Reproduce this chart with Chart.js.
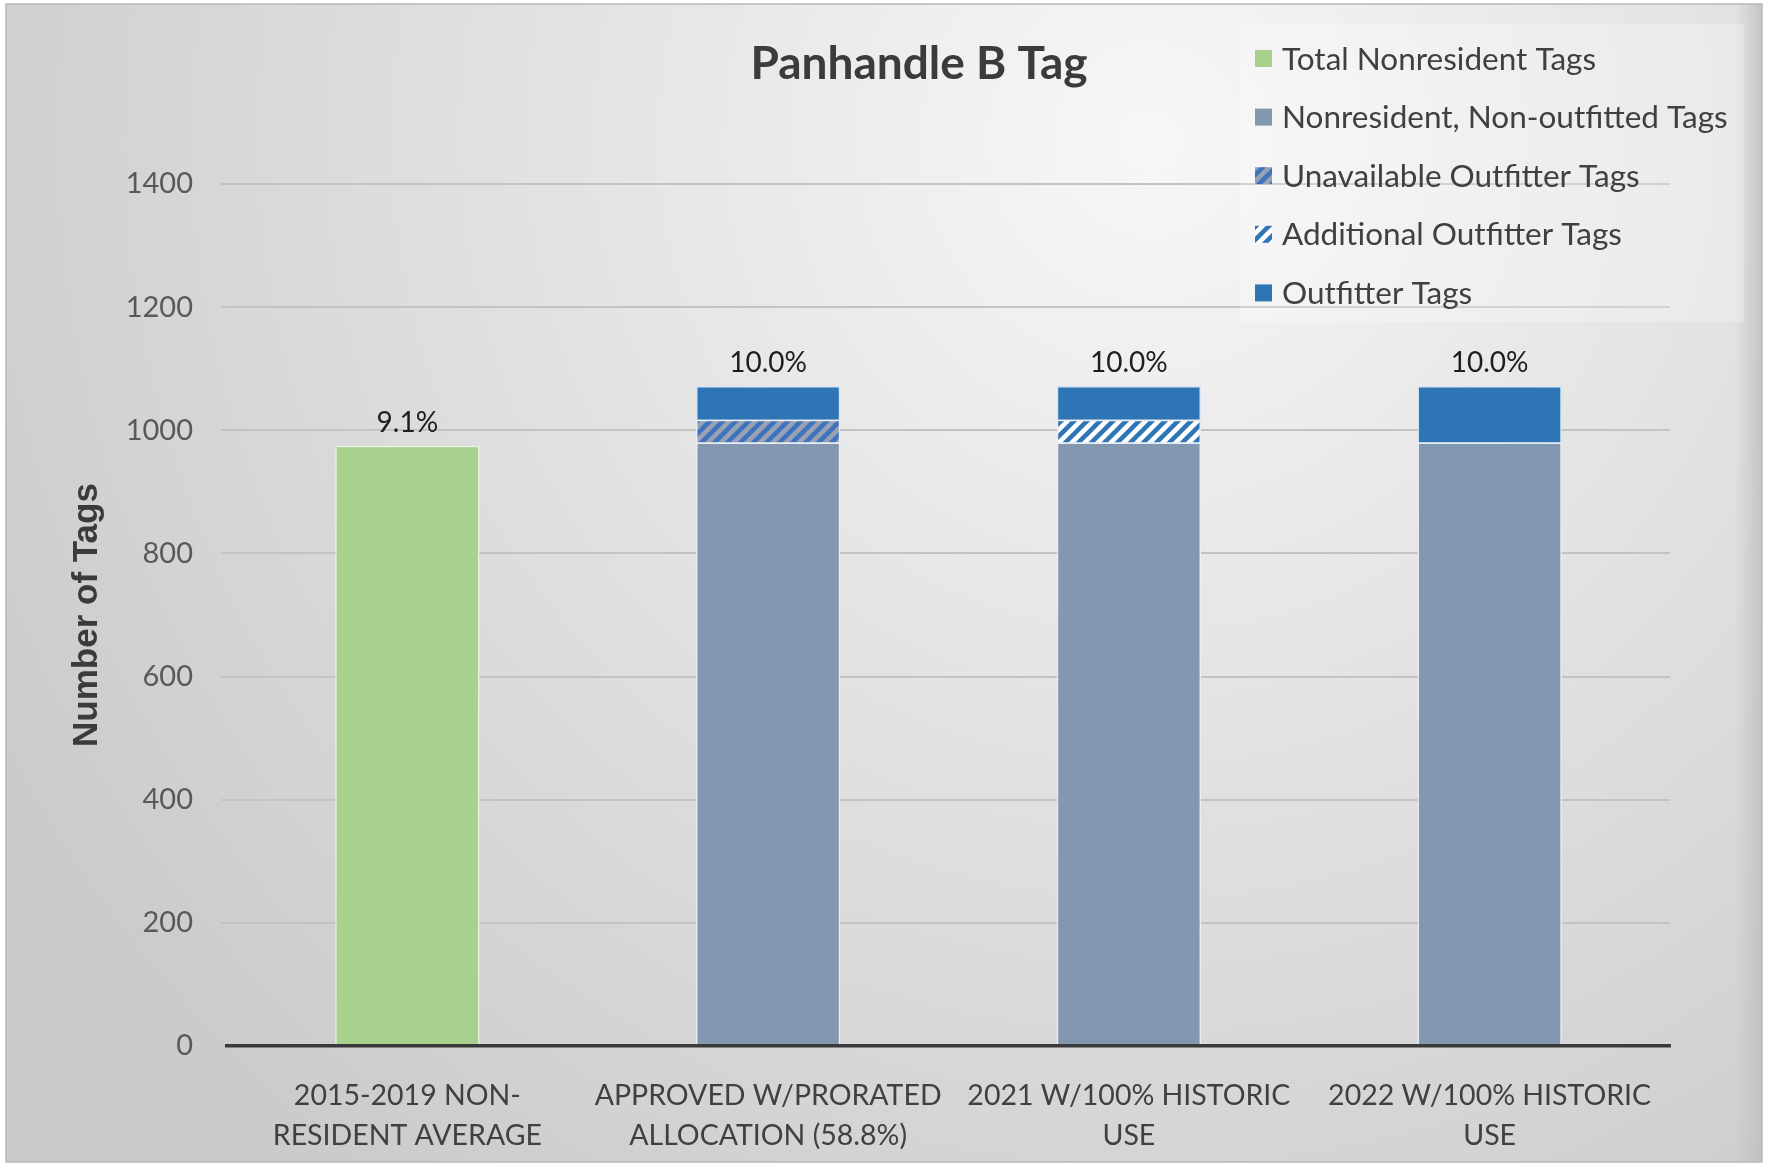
<!DOCTYPE html>
<html>
<head>
<meta charset="utf-8">
<script src="https://cdn.jsdelivr.net/npm/chart.js@4.4.0/dist/chart.umd.min.js"></script>
<style>
  html, body { margin: 0; padding: 0; background: #fff; }
</style>
</head>
<body>
<canvas id="tagChart" width="1767" height="1166"></canvas>
<script>
// chart values
const categories = [
    ["2015-2019 NON-", "RESIDENT AVERAGE"],
    ["APPROVED W/PRORATED", "ALLOCATION (58.8%)"],
    ["2021 W/100% HISTORIC", "USE"],
    ["2022 W/100% HISTORIC", "USE"]
];
const totalNonresident = [975, null, null, null];
const nonOutfitted = [null, 980, 980, 980];
const unavailableOutfitter = [null, 37, null, null];
const additionalOutfitter = [null, null, 37, null];
const outfitterTags = [null, 55, 55, 92];
const percentLabels = ["9.1%", "10.0%", "10.0%", "10.0%"];
const yTicks = [0, 200, 400, 600, 800, 1000, 1200, 1400];

const FONT = "Lato";

// diagonal "/" stripe pattern
function stripes(bg, fg) {
    const s = 13;
    const c = document.createElement("canvas");
    c.width = s; c.height = s;
    const p = c.getContext("2d");
    p.fillStyle = bg;
    p.fillRect(0, 0, s, s);
    p.strokeStyle = fg;
    p.lineWidth = 4.5;
    p.beginPath();
    p.moveTo(0, s); p.lineTo(s, 0);
    p.moveTo(-s / 2, s / 2); p.lineTo(s / 2, -s / 2);
    p.moveTo(s / 2, s * 1.5); p.lineTo(s * 1.5, s / 2);
    p.stroke();
    return p.createPattern(c, "repeat");
}

const ctx = document.getElementById("tagChart").getContext("2d");

const background = {
    id: "background",
    beforeDraw(chart) {
        const c = chart.ctx;
        const w = chart.width, h = chart.height;
        c.save();
        c.fillStyle = "#ffffff";
        c.fillRect(0, 0, w, h);
        const g = c.createRadialGradient(1150, 140, 0, 1150, 140, 1300);
        g.addColorStop(0, "#f7f7f7");
        g.addColorStop(0.45, "#e3e3e3");
        g.addColorStop(1, "#cbcbcb");
        c.fillStyle = g;
        c.fillRect(6, 4, w - 11, h - 8);
        const r = c.createLinearGradient(1735, 0, 1762, 0);
        r.addColorStop(0, "rgba(190,190,190,0)");
        r.addColorStop(1, "rgba(190,190,190,0.8)");
        c.fillStyle = r;
        c.fillRect(1735, 4, 27, h - 8);
        c.strokeStyle = "#b8b8b8";
        c.lineWidth = 1.5;
        c.strokeRect(6, 4, w - 11, h - 8);
        c.restore();
    }
};

const barLabels = {
    id: "barLabels",
    afterDatasetsDraw(chart) {
        const c = chart.ctx;
        c.save();
        c.font = "28px " + FONT;
        c.fillStyle = "#1e1e1e";
        c.textAlign = "center";
        c.textBaseline = "middle";
        categories.forEach((cat, i) => {
            let top = null, x = null;
            chart.data.datasets.forEach((ds, di) => {
                if (ds.data[i] == null) return;
                const el = chart.getDatasetMeta(di).data[i];
                if (top === null || el.y < top) { top = el.y; x = el.x; }
            });
            if (top !== null) c.fillText(percentLabels[i], x, top - 23);
        });
        c.restore();
    }
};

// title and legend sit over the top right, drawn by hand
const titleLegend = {
    id: "titleLegend",
    afterDraw(chart) {
        const c = chart.ctx;
        c.save();
        c.font = "bold 46px " + FONT;
        c.fillStyle = "#3b3b3b";
        c.textAlign = "center";
        c.textBaseline = "middle";
        c.fillText("Panhandle B Tag", 919, 64);

        c.fillStyle = "rgba(255,255,255,0.25)";
        c.fillRect(1240, 24, 504, 298);

        c.font = "31.5px " + FONT;
        c.textAlign = "left";
        chart.data.datasets.forEach((ds, i) => {
            const y = 58.5 + i * 58.6;
            c.fillStyle = ds.backgroundColor;
            c.fillRect(1255, y - 8.5, 17, 17);
            c.fillStyle = "#404040";
            c.fillText(ds.label, 1282, y + 1);
        });
        c.restore();
    }
};

new Chart(ctx, {
    type: "bar",
    data: {
        labels: categories,
        datasets: [
            {
                label: "Total Nonresident Tags",
                data: totalNonresident,
                backgroundColor: "#a9d18e",
                borderColor: "#e9f4e0",
                borderWidth: 1.5
            },
            {
                label: "Nonresident, Non-outfitted Tags",
                data: nonOutfitted,
                backgroundColor: "#8497b0",
                borderColor: "#e8eef6",
                borderWidth: 1.5
            },
            {
                label: "Unavailable Outfitter Tags",
                data: unavailableOutfitter,
                backgroundColor: stripes("#98a2b4", "#3f73bd"),
                borderColor: "#e8eef6",
                borderWidth: 1.5
            },
            {
                label: "Additional Outfitter Tags",
                data: additionalOutfitter,
                backgroundColor: stripes("#ffffff", "#2e75b6"),
                borderColor: "#e8eef6",
                borderWidth: 1.5
            },
            {
                label: "Outfitter Tags",
                data: outfitterTags,
                backgroundColor: "#2e75b6",
                borderColor: "#d6e6f5",
                borderWidth: 1.5
            }
        ]
    },
    options: {
        responsive: false,
        animation: false,
        devicePixelRatio: 1,
        layout: { padding: { left: 6, top: 184, right: 97, bottom: 0 } },
        datasets: { bar: { barPercentage: 0.4, categoryPercentage: 1, skipNull: false } },
        plugins: {
            legend: { display: false },
            title: { display: false },
            tooltip: { enabled: false }
        },
        scales: {
            x: {
                stacked: true,
                grid: { display: false, drawTicks: false },
                border: { display: true, color: "#3a3a3a", width: 3.5, z: 1 },
                ticks: {
                    color: "#404040",
                    font: { family: FONT, size: 28.5, lineHeight: 1.4 },
                    padding: 30,
                    maxRotation: 0,
                    autoSkip: false
                },
                afterFit(scale) { scale.height = 120; }
            },
            y: {
                stacked: true,
                min: 0,
                max: 1400,
                afterBuildTicks(scale) { scale.ticks = yTicks.map(v => ({ value: v })); },
                grid: {
                    color: c => (c.tick && c.tick.value === 0 ? "rgba(0,0,0,0)" : "#c3c3c3"),
                    lineWidth: 2,
                    tickLength: 6
                },
                border: { display: false },
                ticks: {
                    color: "#595959",
                    font: { family: FONT, size: 29 },
                    padding: 28,
                    callback: v => String(v)
                },
                title: {
                    display: true,
                    text: "Number of Tags",
                    color: "#3b3b3b",
                    font: { family: "Liberation Sans", size: 35, weight: "bold" },
                    padding: { top: 60, bottom: 0 }
                },
                afterFit(scale) { scale.width = 221; }
            }
        }
    },
    plugins: [background, barLabels, titleLegend]
});
</script>
</body>
</html>
